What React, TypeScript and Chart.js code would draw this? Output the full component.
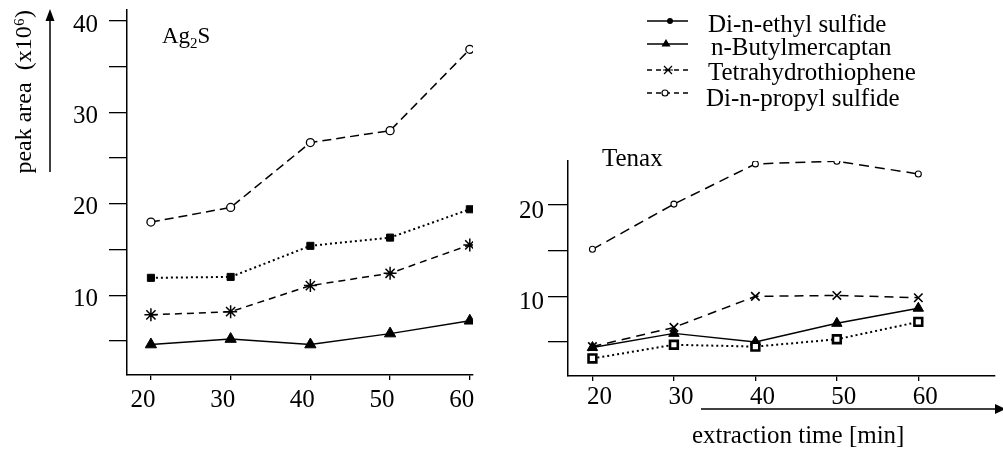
import React, { useEffect, useRef } from 'react';
import { Chart, registerables } from 'chart.js';

Chart.register(...registerables);

// ---------- data ----------
const extractionTimes = [20, 30, 40, 50, 60];
const xTickValues = [20, 30, 40, 50, 60];
const ag2sYTicks = [5, 10, 15, 20, 25, 30, 35, 40];
const tenaxYTicks = [5, 10, 15, 20];
const labeledYTicks = [10, 20, 30, 40];

const seriesNames = ['Di-n-ethyl sulfide', 'n-Butylmercaptan', 'Tetrahydrothiophene', 'Di-n-propyl sulfide'];

// Ag2S panel (peak area x10^6)
const ag2sEthyl = [11.9, 12.0, 15.4, 16.3, 19.4];
const ag2sButyl = [4.6, 5.2, 4.6, 5.8, 7.2];
const ag2sTHT = [7.85, 8.2, 11.05, 12.4, 15.5];
const ag2sPropyl = [18.0, 19.6, 26.7, 28.0, 36.9];

// Tenax panel (peak area x10^6)
const tenaxEthyl = [3.2, 4.7, 4.5, 5.3, 7.2];
const tenaxButyl = [4.4, 5.95, 5.0, 7.05, 8.7];
const tenaxTHT = [4.5, 6.6, 10.0, 10.1, 9.85];
const tenaxPropyl = [15.15, 20.1, 24.5, 24.8, 23.4];

const FONT = "'Liberation Serif', 'Times New Roman', Times, serif";

function makeDataset(label: string, values: number[], st: any) {
  return {
    label,
    data: extractionTimes.map((t, i) => ({ x: t, y: values[i] })),
    borderColor: '#000',
    borderWidth: st.lineWidth,
    borderDash: st.dash,
    pointStyle: st.pointStyle,
    pointRadius: st.radius,
    pointBackgroundColor: st.fill,
    pointBorderColor: '#000',
    pointBorderWidth: st.pointBorderWidth,
    fill: false,
    tension: 0,
  };
}

function buildOptions(p: any) {
  return {
    responsive: false,
    animation: false,
    events: [],
    layout: { padding: p.padding },
    plugins: { legend: { display: false }, tooltip: { enabled: false }, title: { display: false } },
    scales: {
      x: {
        type: 'linear',
        min: p.xMin,
        max: p.xMax,
        afterBuildTicks: (s: any) => { s.ticks = xTickValues.map((v) => ({ value: v })); },
        afterFit: (s: any) => { s.height = p.xHeight; s.paddingLeft = 0; s.paddingRight = 0; },
        border: { display: true, color: '#000', width: 1.5 },
        grid: { display: true, drawOnChartArea: false, drawTicks: true, tickLength: 5, color: '#000', lineWidth: 1.3 },
        ticks: {
          color: '#000', font: { family: FONT, size: 25 }, padding: p.xPad, labelOffset: p.xLabelOffset,
          maxRotation: 0, minRotation: 0, autoSkip: false, callback: (v: any) => String(v),
        },
      },
      y: {
        type: 'linear',
        min: p.yMin,
        max: p.yMax,
        afterBuildTicks: (s: any) => { s.ticks = p.yTicks.map((v: number) => ({ value: v })); },
        afterFit: (s: any) => { s.width = p.yWidth; s.paddingTop = 0; s.paddingBottom = 0; },
        border: { display: true, color: '#000', width: 1.5 },
        grid: { display: true, drawOnChartArea: false, drawTicks: true, tickLength: p.yTickLen, color: '#000', lineWidth: 1.3 },
        ticks: {
          color: '#000', font: { family: FONT, size: 25 }, padding: p.yPad, labelOffset: p.yLabelOffset,
          autoSkip: false, callback: (v: any) => (labeledYTicks.includes(v) ? String(v) : ''),
        },
        title: p.yTitle
          ? { display: true, text: p.yTitle, align: 'end', color: '#000', font: { family: FONT, size: 24 }, padding: { top: 10, bottom: 0 } }
          : { display: false },
      },
    },
  };
}

function drawMarker(ctx: CanvasRenderingContext2D, kind: string, x: number, y: number) {
  ctx.save();
  ctx.setLineDash([]);
  ctx.fillStyle = '#000';
  ctx.strokeStyle = '#000';
  ctx.lineWidth = 1.2;
  if (kind === 'dot') {
    ctx.beginPath(); ctx.arc(x, y, 3, 0, Math.PI * 2); ctx.fill();
  } else if (kind === 'triangle') {
    ctx.beginPath(); ctx.moveTo(x, y - 5); ctx.lineTo(x - 4.5, y + 2.5); ctx.lineTo(x + 4.5, y + 2.5); ctx.closePath(); ctx.fill();
  } else if (kind === 'cross') {
    ctx.beginPath();
    ctx.moveTo(x - 4, y - 4); ctx.lineTo(x + 4, y + 4);
    ctx.moveTo(x - 4, y + 4); ctx.lineTo(x + 4, y - 4);
    ctx.moveTo(x - 5, y); ctx.lineTo(x + 5, y);
    ctx.stroke();
  } else if (kind === 'circle') {
    ctx.fillStyle = '#fff';
    ctx.beginPath(); ctx.arc(x, y, 3, 0, Math.PI * 2); ctx.fill(); ctx.stroke();
  }
  ctx.restore();
}

const leftDecor = {
  id: 'leftDecor',
  afterDraw(chart: any) {
    const ctx: CanvasRenderingContext2D = chart.ctx;
    ctx.save();
    ctx.strokeStyle = '#000';
    ctx.fillStyle = '#000';
    ctx.lineWidth = 1.5;
    ctx.beginPath(); ctx.moveTo(50, 172); ctx.lineTo(50, 19); ctx.stroke();
    ctx.beginPath(); ctx.moveTo(50, 9); ctx.lineTo(45.5, 21); ctx.lineTo(54.5, 21); ctx.closePath(); ctx.fill();
    ctx.textBaseline = 'alphabetic';
    ctx.textAlign = 'left';
    let x = 162;
    ctx.font = `23px ${FONT}`;
    ctx.fillText('Ag', x, 43);
    x += ctx.measureText('Ag').width;
    ctx.font = `15px ${FONT}`;
    ctx.fillText('2', x, 48);
    x += ctx.measureText('2').width;
    ctx.font = `23px ${FONT}`;
    ctx.fillText('S', x, 43);
    ctx.restore();
  },
};

const legendMarkers = ['dot', 'triangle', 'cross', 'circle'];
const legendDashes = [[], [], [5, 4], [5, 4]];
const legendLineY = [21, 44, 70, 93];
const legendTextY = [32, 55, 80, 106];
const legendTextX = [208, 211, 208, 206];
const legendMarkX = [170, 166, 168, 165];

const rightDecor = {
  id: 'rightDecor',
  afterDraw(chart: any) {
    const ctx: CanvasRenderingContext2D = chart.ctx;
    ctx.save();
    ctx.strokeStyle = '#000';
    ctx.fillStyle = '#000';
    ctx.textBaseline = 'alphabetic';
    ctx.textAlign = 'left';
    ctx.font = `25px ${FONT}`;
    ctx.fillText('Tenax', 102, 166);

    chart.data.datasets.forEach((d: any, i: number) => {
      const y = legendLineY[i];
      ctx.lineWidth = 1.5;
      ctx.setLineDash(legendDashes[i]);
      ctx.beginPath(); ctx.moveTo(147, y); ctx.lineTo(188, y); ctx.stroke();
      ctx.setLineDash([]);
      drawMarker(ctx, legendMarkers[i], legendMarkX[i], y);
      ctx.fillStyle = '#000';
      ctx.font = `25px ${FONT}`;
      ctx.fillText(d.label, legendTextX[i], legendTextY[i]);
    });

    ctx.lineWidth = 1.5;
    ctx.beginPath(); ctx.moveTo(201, 409); ctx.lineTo(497, 409); ctx.stroke();
    ctx.beginPath(); ctx.moveTo(506, 409); ctx.lineTo(495, 404); ctx.lineTo(495, 414); ctx.closePath(); ctx.fill();
    ctx.font = `25px ${FONT}`;
    ctx.fillText('extraction time [min]', 192, 443);
    ctx.restore();
  },
};

export default function App() {
  const leftRef = useRef<HTMLCanvasElement>(null);
  const rightRef = useRef<HTMLCanvasElement>(null);

  useEffect(() => {
    const leftChart = new Chart(leftRef.current as HTMLCanvasElement, {
      type: 'line',
      data: {
        datasets: [
          makeDataset(seriesNames[0], ag2sEthyl, { lineWidth: 2, dash: [2, 3], pointStyle: 'rect', radius: 5, fill: '#000', pointBorderWidth: 1 }),
          makeDataset(seriesNames[1], ag2sButyl, { lineWidth: 1.4, dash: [], pointStyle: 'triangle', radius: 6.5, fill: '#000', pointBorderWidth: 1 }),
          makeDataset(seriesNames[2], ag2sTHT, { lineWidth: 1.5, dash: [7, 5], pointStyle: 'star', radius: 6.5, fill: '#000', pointBorderWidth: 1.5 }),
          makeDataset(seriesNames[3], ag2sPropyl, { lineWidth: 1.5, dash: [9, 5], pointStyle: 'circle', radius: 4, fill: '#fff', pointBorderWidth: 1.3 }),
        ],
      },
      options: buildOptions({
        padding: { top: 10, right: 27, bottom: 0, left: 0 },
        xMin: 17, xMax: 60.4, xHeight: 79, xPad: 5, xLabelOffset: -8,
        yMin: 1.27, yMax: 41.2, yTicks: ag2sYTicks, yWidth: 127, yTickLen: 18, yPad: 11, yLabelOffset: 4,
        yTitle: 'peak area  (x10⁶)',
      }) as any,
      plugins: [leftDecor],
    });

    const rightChart = new Chart(rightRef.current as HTMLCanvasElement, {
      type: 'line',
      data: {
        datasets: [
          makeDataset(seriesNames[0], tenaxEthyl, { lineWidth: 2, dash: [2, 3], pointStyle: 'rect', radius: 5.5, fill: '#fff', pointBorderWidth: 2.6 }),
          makeDataset(seriesNames[1], tenaxButyl, { lineWidth: 1.4, dash: [], pointStyle: 'triangle', radius: 6, fill: '#000', pointBorderWidth: 1 }),
          makeDataset(seriesNames[2], tenaxTHT, { lineWidth: 1.5, dash: [9, 6], pointStyle: 'crossRot', radius: 6, fill: '#000', pointBorderWidth: 1.6 }),
          makeDataset(seriesNames[3], tenaxPropyl, { lineWidth: 1.5, dash: [10, 6], pointStyle: 'circle', radius: 3, fill: '#fff', pointBorderWidth: 1.1 }),
        ],
      },
      options: buildOptions({
        padding: { top: 161, right: 0, bottom: 0, left: 0 },
        xMin: 17, xMax: 69.4, xHeight: 78, xPad: 1, xLabelOffset: 7,
        yMin: 1.28, yMax: 24.82, yTicks: tenaxYTicks, yWidth: 68, yTickLen: 20, yPad: 4, yLabelOffset: 6,
        yTitle: null,
      }) as any,
      plugins: [rightDecor],
    });

    return () => {
      leftChart.destroy();
      rightChart.destroy();
    };
  }, []);

  return (
    <div style={{ position: 'fixed', left: 0, top: 0, width: 1003, height: 454, background: '#fff', overflow: 'hidden' }}>
      <canvas ref={leftRef} width={500} height={454} style={{ position: 'absolute', left: 0, top: 0 }} />
      <canvas ref={rightRef} width={503} height={454} style={{ position: 'absolute', left: 500, top: 0 }} />
    </div>
  );
}
